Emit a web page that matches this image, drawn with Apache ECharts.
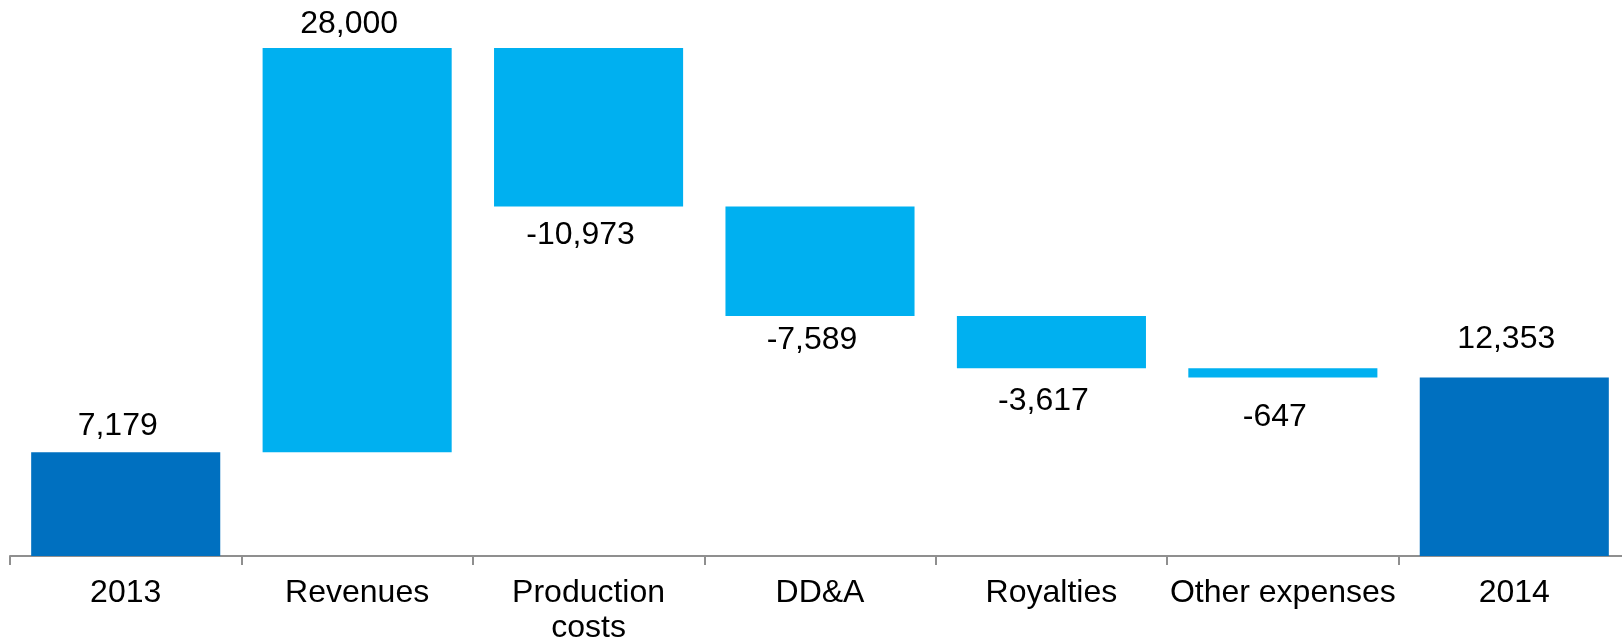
<!DOCTYPE html>
<html>
<head>
<meta charset="utf-8">
<title>Net income bridge 2013–2014</title>
<script src="https://cdn.jsdelivr.net/npm/echarts@6/dist/echarts.min.js"></script>
<style>
  html, body { margin: 0; padding: 0; background: #ffffff; overflow: hidden; }
  #chart { width: 1622px; height: 643px; }
</style>
</head>
<body>
<div id="chart"></div>
<script>
// Bridge categories, opening/closing totals and the changes between them
const categories = ['2013', 'Revenues', 'Production\ncosts', 'DD&A', 'Royalties', 'Other expenses', '2014'];
const openingTotal = 7179;
const changes = [28000, -10973, -7589, -3617, -647];
const closingTotal = 12353;

// Extra spacing between each bar and its value label
const labelGap = [12, 9, 14, 10, 18, 25, 24];

const DARK = '#0070C0';
const LIGHT = '#00B0F0';
const FONT = 'Liberation Sans, Arial, sans-serif';

// Build invisible bases and visible segments for the waterfall
const base = [0];
const visible = [openingTotal];
const signed = [openingTotal];
let running = openingTotal;
changes.forEach(function (d) {
  const next = running + d;
  base.push(Math.min(running, next));
  visible.push(Math.abs(d));
  signed.push(d);
  running = next;
});
base.push(0);
visible.push(closingTotal);
signed.push(closingTotal);

let peak = 0;
base.forEach(function (b, i) { peak = Math.max(peak, b + visible[i]); });

const fmt = function (v) {
  const s = Math.abs(v).toString().replace(/\B(?=(\d{3})+(?!\d))/g, ',');
  return (v < 0 ? '-' : '') + s;
};

const barData = visible.map(function (v, i) {
  const isTotal = i === 0 || i === visible.length - 1;
  const neg = signed[i] < 0;
  return {
    value: v,
    itemStyle: { color: isTotal ? DARK : LIGHT },
    label: {
      position: neg ? 'bottom' : 'top',
      distance: labelGap[i]
    }
  };
});

const chart = echarts.init(document.getElementById('chart'), null, { renderer: 'canvas' });
chart.setOption({
  animation: false,
  backgroundColor: '#ffffff',
  // the category axis runs a little past the right edge of the canvas
  grid: { left: 10, width: 1620, top: 48, height: 508, containLabel: false, outerBoundsMode: 'none' },
  xAxis: {
    type: 'category',
    data: categories,
    boundaryGap: true,
    axisLine: { show: true, lineStyle: { color: '#8f8f8f', width: 2 } },
    axisTick: { show: true, alignWithLabel: false, length: 9, lineStyle: { color: '#8f8f8f', width: 2 } },
    axisLabel: {
      interval: 0,
      color: '#000000',
      fontFamily: FONT,
      fontSize: 32,
      lineHeight: 35,
      margin: 20
    }
  },
  yAxis: {
    type: 'value',
    min: 0,
    max: peak,
    show: false,
    splitLine: { show: false }
  },
  series: [
    {
      name: 'base',
      type: 'bar',
      stack: 'bridge',
      data: base,
      itemStyle: { color: 'transparent' },
      emphasis: { disabled: true },
      barCategoryGap: '18.3%',
      silent: true
    },
    {
      name: 'change',
      type: 'bar',
      stack: 'bridge',
      data: barData,
      barCategoryGap: '18.3%',
      label: {
        show: true,
        color: '#000000',
        fontFamily: FONT,
        fontSize: 32,
        lineHeight: 29,
        offset: [-8, 0],
        formatter: function (p) { return fmt(signed[p.dataIndex]); }
      }
    }
  ]
});
</script>
</body>
</html>
